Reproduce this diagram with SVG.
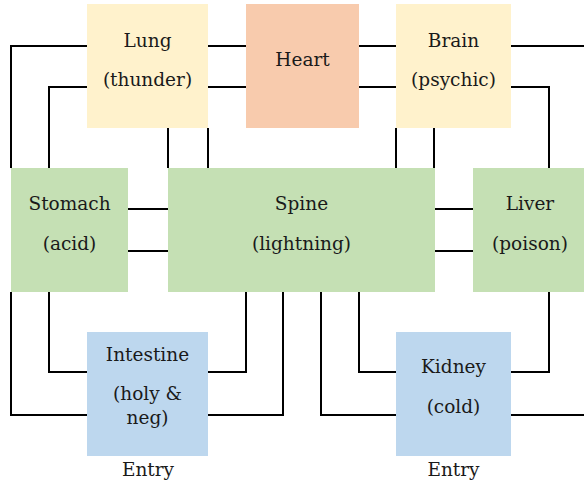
<svg xmlns="http://www.w3.org/2000/svg" width="584" height="482" viewBox="0 0 584 482">
<style>
text{font-family:"DejaVu Serif","Liberation Serif",serif;font-size:18.5px;fill:#1a1a1a;text-anchor:middle}
.y{fill:#fff2cc}.h{fill:#f8cbad}.g{fill:#c5e0b4}.b{fill:#bdd7ee}
#connectors path{fill:none;stroke:#000;stroke-width:2}
</style>
<rect width="584" height="482" fill="#fff"/>
<g id="connectors">
<path d="M87 46H11V168"/>
<path d="M87 87H49V168"/>
<path d="M208 46H246"/>
<path d="M208 87H246"/>
<path d="M359 46H396"/>
<path d="M359 87H396"/>
<path d="M511 46H584"/>
<path d="M511 87H549V168"/>
<path d="M168 128V168"/>
<path d="M208 128V168"/>
<path d="M396 128V168"/>
<path d="M434 128V168"/>
<path d="M128 209H168"/>
<path d="M128 251H168"/>
<path d="M435 209H473"/>
<path d="M435 251H473"/>
<path d="M49 292V372H87"/>
<path d="M11 292V415H87"/>
<path d="M208 372H246V292"/>
<path d="M208 415H283V292"/>
<path d="M359 292V372H396"/>
<path d="M321 292V415H396"/>
<path d="M511 372H549V292"/>
<path d="M511 415H584"/>
</g>
<g id="lung"><rect class="y" x="87" y="4" width="121" height="124"/><text x="147.5" y="47">Lung</text><text x="147.5" y="86">(thunder)</text></g>
<g id="heart"><rect class="h" x="246" y="4" width="113" height="124"/><text x="302.5" y="66">Heart</text></g>
<g id="brain"><rect class="y" x="396" y="4" width="115" height="124"/><text x="453.5" y="47">Brain</text><text x="453.5" y="86">(psychic)</text></g>
<g id="stomach"><rect class="g" x="11" y="168" width="117" height="124"/><text x="69.5" y="210">Stomach</text><text x="69.5" y="250">(acid)</text></g>
<g id="spine"><rect class="g" x="168" y="168" width="267" height="124"/><text x="301.5" y="210">Spine</text><text x="301.5" y="250">(lightning)</text></g>
<g id="liver"><rect class="g" x="473" y="168" width="115" height="124"/><text x="530" y="210">Liver</text><text x="530" y="250">(poison)</text></g>
<g id="intestine"><rect class="b" x="87" y="332" width="121" height="124"/><text x="147.5" y="361">Intestine</text><text x="147.5" y="400">(holy &amp;</text><text x="147.5" y="424">neg)</text><text x="148" y="476">Entry</text></g>
<g id="kidney"><rect class="b" x="396" y="332" width="115" height="124"/><text x="453.5" y="373">Kidney</text><text x="453.5" y="413">(cold)</text><text x="453.5" y="476">Entry</text></g>
</svg>
